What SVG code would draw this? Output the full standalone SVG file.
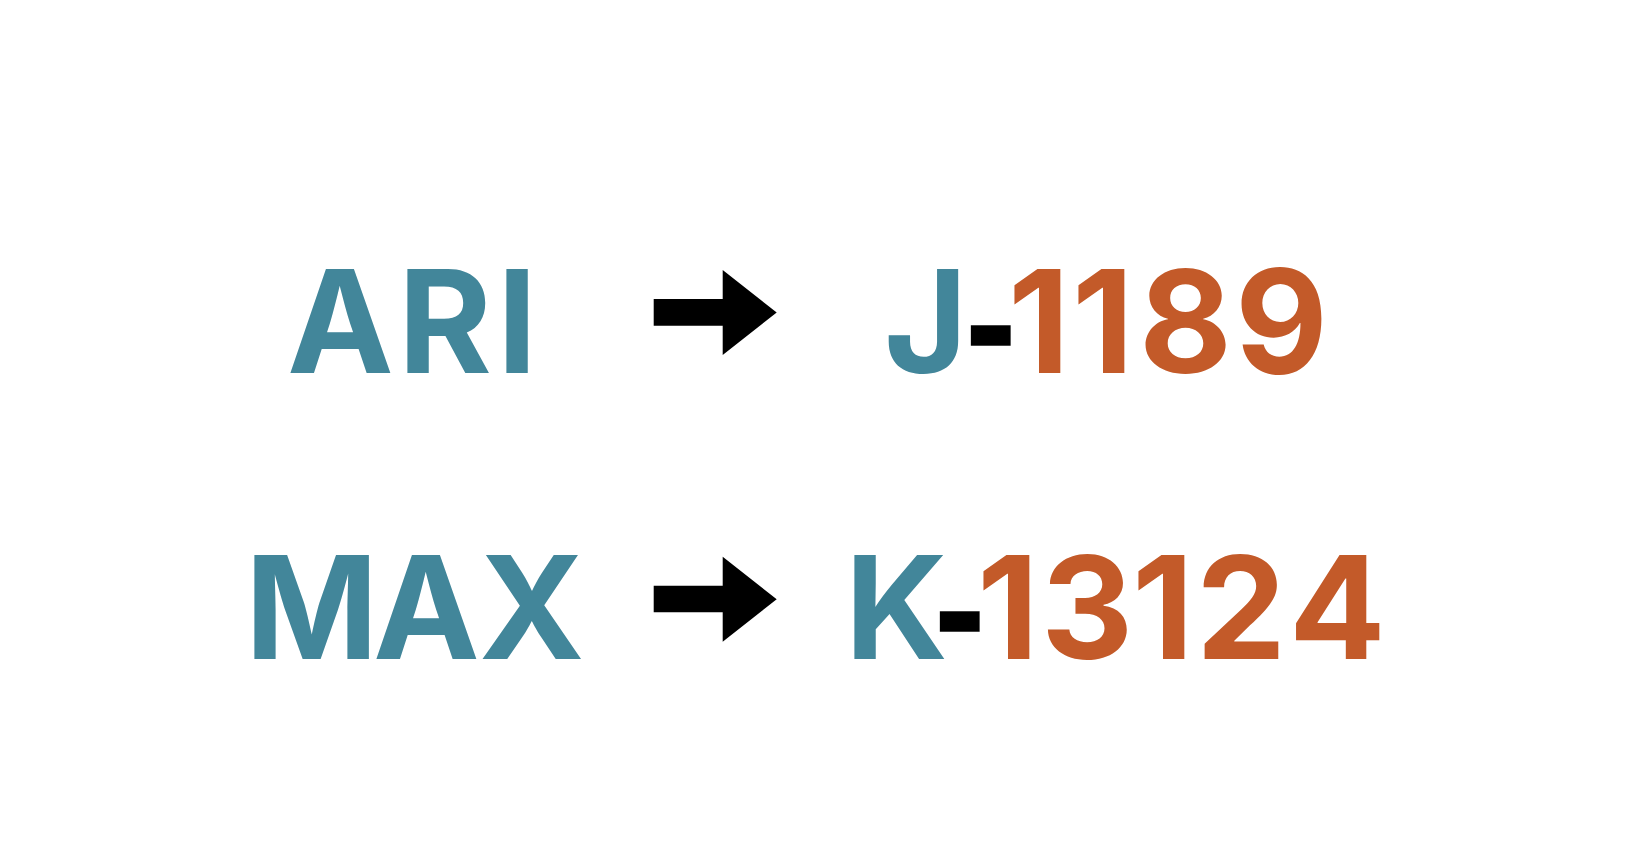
<svg xmlns="http://www.w3.org/2000/svg" width="1630" height="852" viewBox="0 0 1630 852">
<style>
.t{font-family:Inter,"Noto Sans","Liberation Sans",sans-serif;font-weight:700;font-size:143px}
.teal{fill:#42869A}
.orange{fill:#C35A29}
.blk{fill:#000000;stroke:#000000;stroke-width:3.5px;font-family:"Liberation Sans",Arial,sans-serif}
.arrow{fill:#000000}
</style>
<rect width="1630" height="852" fill="#ffffff"/>
<g id="node-ari">
<text class="t teal" x="287 398 497" y="372.7">ARI</text>
</g>
<g id="node-max">
<text class="t teal" x="245 373 479" y="659.3">MAX</text>
</g>
<g id="node-j1189">
<text class="t" x="884 967 1008 1072 1139 1235" y="372.7"><tspan class="teal">J</tspan><tspan class="blk">-</tspan><tspan class="orange">1189</tspan></text>
</g>
<g id="node-k13124">
<text class="t" x="845 936 977 1041 1132 1196 1289" y="659.3"><tspan class="teal">K</tspan><tspan class="blk">-</tspan><tspan class="orange">13124</tspan></text>
</g>
<g id="connectors">
<path id="arrow-1" class="arrow" d="M653.7 299 H722.7 V270 L776.7 312.5 L722.7 355 V325.7 H653.7 Z"/>
<path id="arrow-2" class="arrow" d="M653.7 585.7 H722.7 V556.7 L776.7 599.2 L722.7 641.7 V612.3 H653.7 Z"/>
</g>
</svg>
